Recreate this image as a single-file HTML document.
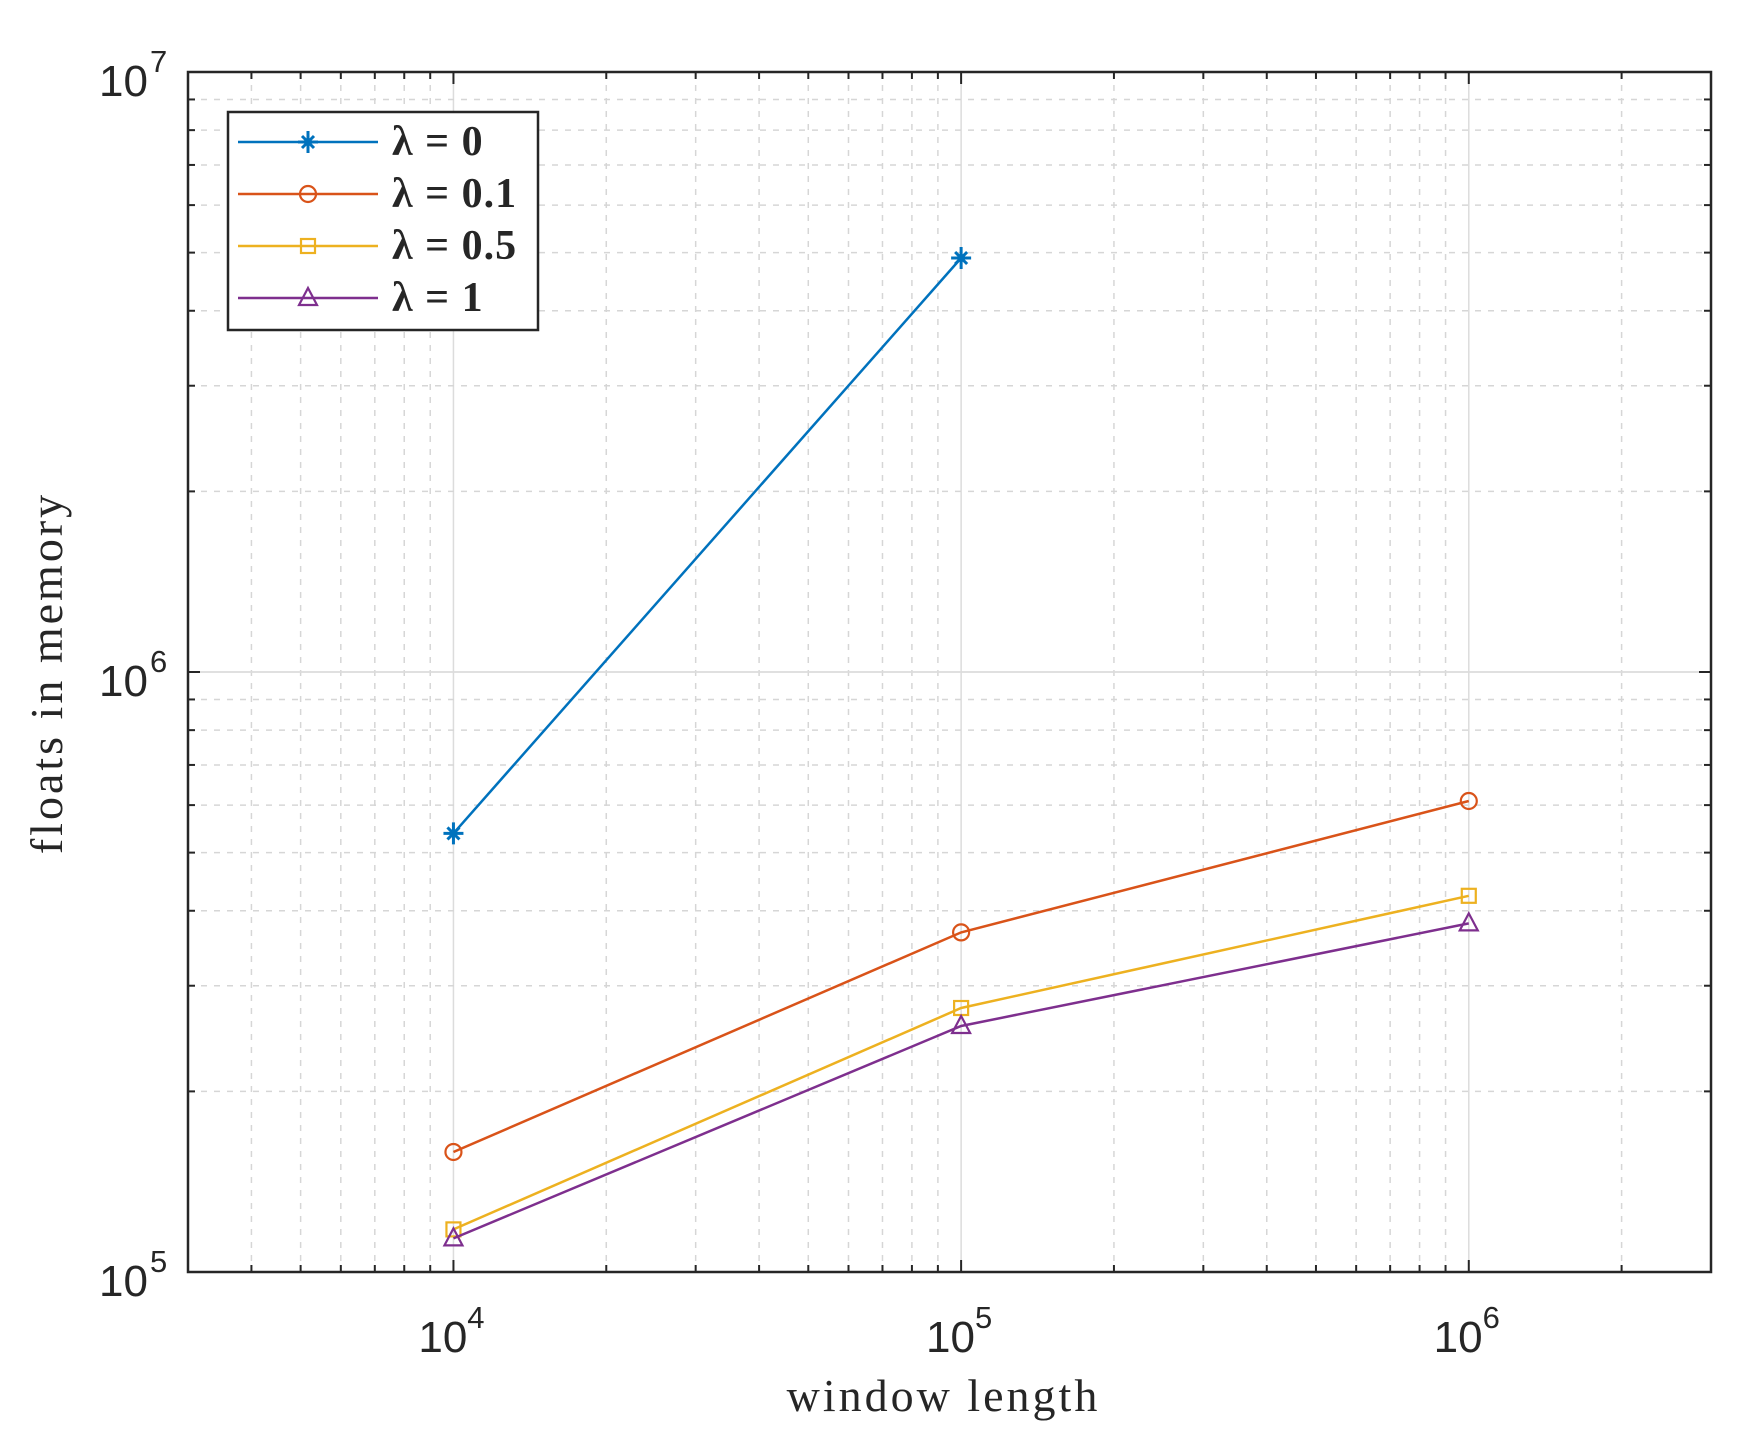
<!DOCTYPE html>
<html><head><meta charset="utf-8"><style>
html,body{margin:0;padding:0;background:#fff;}
svg{display:block;}
</style></head><body>
<svg id="s" width="1744" height="1444" xmlns="http://www.w3.org/2000/svg"></svg>
<script>
const L=188,R=1711,T=72,B=1272;
const xmin=Math.log10(3000),xmax=Math.log10(3e6);
const X=v=>L+(Math.log10(v)-xmin)/(xmax-xmin)*(R-L);
const Y=lv=>B-(lv-5)/2*(B-T);
let o='';
for(let d=3;d<=6;d++)for(let m=1;m<=9;m++){const v=m*Math.pow(10,d);if(v<3000||v>3e6)continue;const x=X(v);
 if(m==1){o+=`<line x1="${x}" y1="${T}" x2="${x}" y2="${B}" stroke="#dcdcdc" stroke-width="1.5"/>`;}
 else o+=`<line x1="${x}" y1="${T}" x2="${x}" y2="${B}" stroke="#d6d6d6" stroke-width="1.5" stroke-dasharray="6,7"/>`;
 const tl=m==1?12:7;
 o+=`<line x1="${x}" y1="${B}" x2="${x}" y2="${B-tl}" stroke="#262626" stroke-width="2"/><line x1="${x}" y1="${T}" x2="${x}" y2="${T+tl}" stroke="#262626" stroke-width="2"/>`;}
for(let d=5;d<=6;d++)for(let m=1;m<=10;m++){const lv=d+Math.log10(m);if(lv>7)continue;const y=Y(lv);
 if(m==1||m==10){o+=`<line x1="${L}" y1="${y}" x2="${R}" y2="${y}" stroke="#dcdcdc" stroke-width="1.5"/>`;}
 else o+=`<line x1="${L}" y1="${y}" x2="${R}" y2="${y}" stroke="#d6d6d6" stroke-width="1.5" stroke-dasharray="6,7"/>`;
 const tl=(m==1||m==10)?12:7;
 o+=`<line x1="${L}" y1="${y}" x2="${L+tl}" y2="${y}" stroke="#262626" stroke-width="2"/><line x1="${R}" y1="${y}" x2="${R-tl}" y2="${y}" stroke="#262626" stroke-width="2"/>`;}
o+=`<rect x="${L}" y="${T}" width="${R-L}" height="${B-T}" fill="none" stroke="#262626" stroke-width="2.5"/>`;
const f='font-family="Liberation Sans, sans-serif" fill="#262626"';
[[1e4,4],[1e5,5],[1e6,6]].forEach(([v,e])=>{const x=X(v);o+=`<text x="${x-2}" y="${B+80}" ${f} font-size="44" text-anchor="middle">10<tspan dy="-24" font-size="31">${e}</tspan></text>`;});
[[7,T],[6,Y(6)],[5,B]].forEach(([e,y])=>{o+=`<text x="${148}" y="${y+24}" ${f} font-size="44" text-anchor="end">10</text><text x="${150}" y="${y}" ${f} font-size="31">${e}</text>`;});
const sf='font-family="Liberation Serif, serif" fill="#262626"';
o+=`<text x="${(L+R)/2-6}" y="1411" ${sf} font-size="46" letter-spacing="3" text-anchor="middle">window length</text>`;
o+=`<text transform="translate(62,673) rotate(-90)" ${sf} font-size="46" letter-spacing="3" text-anchor="middle">floats in memory</text>`;
const ser=[
 ['#0072BD','star',[[1e4,5.731],[1e5,6.69]]],
 ['#D95319','circ',[[1e4,5.2],[1e5,5.566],[1e6,5.785]]],
 ['#EDB120','sq',[[1e4,5.071],[1e5,5.44],[1e6,5.627]]],
 ['#7E2F8E','tri',[[1e4,5.056],[1e5,5.41],[1e6,5.581]]]];
function mk(t,x,y,c){
 if(t=='star')return `<path d="M${x-10} ${y}H${x+10}M${x} ${y-11}V${y+11}M${x-6} ${y-6}L${x+6} ${y+6}M${x-6} ${y+6}L${x+6} ${y-6}" stroke="${c}" stroke-width="3"/><circle cx="${x}" cy="${y}" r="4" fill="${c}"/>`;
 if(t=='circ')return `<circle cx="${x}" cy="${y}" r="8" fill="none" stroke="${c}" stroke-width="2.2"/>`;
 if(t=='sq')return `<rect x="${x-7}" y="${y-7}" width="14" height="14" fill="none" stroke="${c}" stroke-width="2.2"/>`;
 return `<path d="M${x} ${y-10}L${x+9} ${y+7}H${x-9}Z" fill="none" stroke="${c}" stroke-width="2.2"/>`;}
ser.forEach(([c,t,pts])=>{o+=`<polyline points="${pts.map(p=>X(p[0])+','+Y(p[1])).join(' ')}" fill="none" stroke="${c}" stroke-width="2.5"/>`;pts.forEach(p=>o+=mk(t,X(p[0]),Y(p[1]),c));});
o+=`<rect x="228" y="112" width="310" height="218" fill="#fff" stroke="#262626" stroke-width="2.5"/>`;
const labs=['0','0.1','0.5','1'];
ser.forEach(([c,t],i)=>{const y=142+i*52;o+=`<line x1="238" y1="${y}" x2="378" y2="${y}" stroke="${c}" stroke-width="2.5"/>`+mk(t,308,y,c)+`<text x="392" y="${y+13}" ${sf} font-size="42" font-weight="bold" letter-spacing="1">λ = ${labs[i]}</text>`;});
document.getElementById('s').innerHTML=o;
</script>
</body></html>
